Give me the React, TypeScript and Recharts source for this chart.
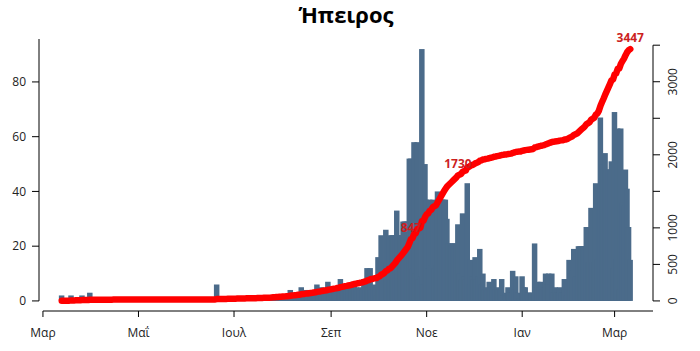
import React from 'react';
import { ComposedChart, Bar, Line, XAxis, YAxis, ReferenceLine, ReferenceDot } from 'recharts';

// Ήπειρος: new cases per day (bars) and running total (red line), 13 Mar 2020 .. 11 Mar 2021
const firstDate = '2020-03-13';

const casesMar20 = [2, 0, 1, 0, 1, 0, 2, 1, 0, 1, 0, 0, 1, 2, 0, 1, 0, 0, 3];
const casesApr20 = [0, 1, 0, 0, 0, 0, 0, 1, 0, 0, 0, 0, 0, 0, 1, 0, 0, 0, 0, 0, 0, 0, 0, 0, 0, 0, 0, 1, 0, 0];
const casesMay20 = [0, 0, 0, 0, 0, 0, 0, 0, 0, 0, 0, 0, 0, 0, 0, 0, 0, 0, 0, 1, 0, 0, 0, 0, 0, 0, 0, 0, 0, 0, 0];
const casesJun20 = [0, 0, 0, 0, 0, 0, 0, 0, 0, 0, 0, 0, 0, 0, 0, 0, 0, 0, 0, 6, 0, 0, 1, 0, 1, 0, 1, 0, 1, 0];
const casesJul20 = [1, 0, 1, 0, 1, 0, 1, 0, 1, 1, 0, 1, 0, 1, 0, 1, 1, 0, 1, 1, 0, 1, 1, 1, 2, 2, 2, 2, 1, 2, 2];
const casesAug20 = [2, 2, 1, 2, 2, 4, 3, 2, 3, 2, 3, 2, 5, 3, 2, 4, 1, 4, 3, 3, 4, 3, 6, 3, 3, 5, 4, 3, 3, 7, 3];
const casesSep20 = [4, 5, 4, 4, 5, 4, 8, 4, 5, 4, 4, 5, 4, 4, 7, 6, 5, 4, 4, 5, 4, 8, 5, 12, 5, 12, 4, 6, 5, 2];
const casesOct20 = [16, 6, 24, 10, 14, 26, 8, 24, 8, 24, 24, 24, 33, 24, 24, 24, 29, 29, 29, 29, 52, 52, 12, 58, 10, 58, 8, 9, 92, 6, 50];
const casesNov20 = [37, 12, 37, 13, 37, 12, 13, 40, 37, 37, 37, 37, 37, 30, 21, 21, 21, 21, 21, 21, 28, 10, 8, 32, 9, 8, 43, 6, 15, 9];
const casesDec20 = [8, 16, 8, 9, 19, 6, 10, 4, 5, 4, 7, 5, 5, 8, 4, 5, 4, 4, 8, 2, 3, 2, 5, 3, 3, 11, 4, 9, 3, 1, 1];
const casesJan21 = [9, 5, 5, 3, 3, 3, 3, 3, 21, 5, 7, 5, 7, 4, 5, 10, 6, 10, 6, 10, 3, 5, 3, 3, 5, 3, 3, 8, 2, 7, 15];
const casesFeb21 = [10, 11, 19, 9, 9, 20, 20, 20, 20, 20, 27, 14, 14, 34, 14, 14, 43, 15, 40, 67, 50, 48, 54, 48, 48, 48, 51, 12];
const casesMar21 = [69, 15, 63, 4, 63, 36, 35, 48, 41, 27, 15];

const monthTickDates = ['2020-03-01', '2020-05-01', '2020-07-01', '2020-09-01', '2020-11-01', '2021-01-01', '2021-03-01'];
const monthTickLabels = ['Μαρ', 'Μαΐ', 'Ιουλ', 'Σεπ', 'Νοε', 'Ιαν', 'Μαρ'];
const leftTicks = [0, 20, 40, 60, 80];
const rightTicks = [0, 500, 1000, 1500, 2000, 2500, 3000, 3500];
const rightTickLabels = [0, 500, 1000, 2000, 3000];
const markDates = ['2020-10-22', '2020-11-21', '2021-03-11'];
const markValues = [847, 1730, 3447];

const dayIndex = (iso: string) => {
  const [y, m, d] = iso.split('-').map(Number);
  return Math.round((Date.UTC(y, m - 1, d) - Date.UTC(2020, 2, 1)) / 86400000);
};

const rows: { day: number; cases: number; cum: number }[] = [];
{
  let day = dayIndex(firstDate);
  let total = 0;
  [casesMar20, casesApr20, casesMay20, casesJun20, casesJul20, casesAug20, casesSep20,
    casesOct20, casesNov20, casesDec20, casesJan21, casesFeb21, casesMar21].forEach((month) =>
    month.forEach((v) => {
      total += v;
      rows.push({ day, cases: v, cum: total });
      day++;
    })
  );
}

const tickDays = monthTickDates.map(dayIndex);
const markDays = markDates.map(dayIndex);

// R-style 4% padding around the data range
const firstDay = rows[0].day;
const lastDay = rows[rows.length - 1].day;
const X_MIN = firstDay - (lastDay - firstDay) * 0.04;
const X_MAX = lastDay + (lastDay - firstDay) * 0.04;
const LEFT_DOMAIN = [-3.68, 95.68];
const RIGHT_DOMAIN = [-137.9, 3584.9];

const BAR_W = 5.5;
const FONT = '"Open Sans", "DejaVu Sans", sans-serif';
const BAR_COLOR = '#4b6b8a';

const WideBar = (props: any) => {
  const { x, y, width, height, fill } = props;
  if (!height || height <= 0) return null;
  const cx = x + width / 2;
  return <rect x={cx - BAR_W / 2} y={y} width={BAR_W} height={height} fill={fill} />;
};

const RightTick = (props: any) => {
  const { x, y, payload } = props;
  if (!rightTickLabels.includes(payload.value)) return null;
  const cx = x + 9;
  return (
    <text x={cx} y={y} transform={`rotate(-90 ${cx} ${y})`} textAnchor="middle" dominantBaseline="central"
      fontSize={12} fill="#222" fontFamily={FONT}>
      {payload.value}
    </text>
  );
};

export default function App() {
  return (
    <div style={{ position: 'absolute', left: 0, top: 0, width: 700, height: 351, background: '#fff' }}>
      <div style={{
        position: 'absolute', left: 0, top: 0, width: 692, textAlign: 'center',
        fontFamily: FONT, fontWeight: 700, fontSize: 22, lineHeight: '28px', color: '#000',
      }}>
        Ήπειρος
      </div>
      <ComposedChart width={700} height={351} data={rows} margin={{ top: 39, right: 17, bottom: 10, left: 9 }}>
        <XAxis
          dataKey="day" type="number" domain={[X_MIN, X_MAX]} allowDataOverflow
          ticks={tickDays} interval={0} axisLine={false}
          tickLine={{ stroke: '#000' }} tickSize={6} tickMargin={11} height={30}
          tickFormatter={(d: number) => monthTickLabels[tickDays.indexOf(d)]}
          tick={{ fontSize: 12, fill: '#222', fontFamily: FONT }}
        />
        <YAxis
          yAxisId="left" domain={LEFT_DOMAIN} allowDataOverflow ticks={leftTicks} interval={0}
          axisLine={false} tickLine={{ stroke: '#000' }} tickSize={7} tickMargin={6} width={30}
          tick={{ fontSize: 12, fill: '#222', fontFamily: FONT }}
        />
        <YAxis
          yAxisId="right" orientation="right" domain={RIGHT_DOMAIN} allowDataOverflow ticks={rightTicks}
          interval={0} axisLine={false} tickLine={{ stroke: '#000' }} tickSize={7} tickMargin={4} width={30}
          tick={<RightTick />}
        />
        <Bar yAxisId="left" dataKey="cases" fill={BAR_COLOR} shape={<WideBar />} isAnimationActive={false} />
        <ReferenceLine yAxisId="left" stroke="#000" ifOverflow="visible"
          segment={[{ x: X_MIN, y: 0 }, { x: X_MIN, y: LEFT_DOMAIN[1] }]} />
        <ReferenceLine yAxisId="right" stroke="#000" ifOverflow="visible"
          segment={[{ x: X_MAX, y: 0 }, { x: X_MAX, y: 3500 }]} />
        <ReferenceLine yAxisId="left" stroke="#000" ifOverflow="visible"
          segment={[{ x: tickDays[0], y: LEFT_DOMAIN[0] }, { x: X_MAX, y: LEFT_DOMAIN[0] }]} />
        {markDays.map((d, i) => (
          <ReferenceDot key={i} yAxisId="right" x={d} y={markValues[i]} r={0} ifOverflow="visible"
            label={{ value: String(markValues[i]), position: 'top', offset: 7, fill: '#cc1f1f',
              fontSize: 12, fontWeight: 700, fontFamily: FONT }} />
        ))}
        <Line yAxisId="right" dataKey="cum" type="linear" stroke="#ff0000" strokeWidth={6.5}
          strokeLinecap="round" strokeLinejoin="round" dot={false} isAnimationActive={false} />
      </ComposedChart>
    </div>
  );
}
